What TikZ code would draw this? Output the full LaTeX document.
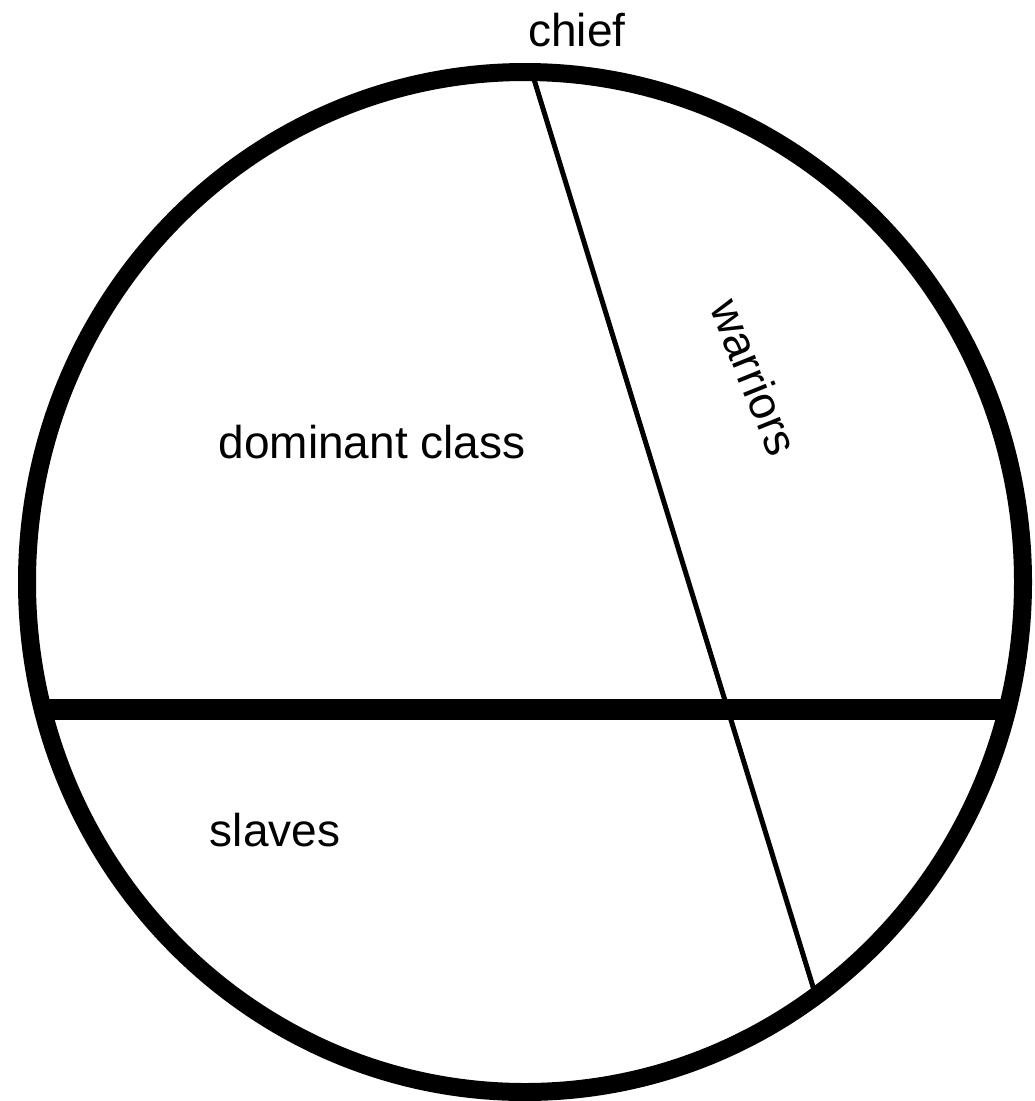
\documentclass[tikz,border=0pt]{standalone}
\usepackage{fontspec}
\setmainfont{Liberation Sans}
\begin{document}
\begin{tikzpicture}[x=1pt,y=-1pt,
  lbl/.style={font=\fontsize{46}{55}\selectfont, inner sep=0pt, anchor=center},
  rim/.style={line width=18pt},
  divider/.style={line width=21pt},
  thinline/.style={line width=5pt}]
\useasboundingbox (0,0) rectangle (1035,1101);
\coordinate (c) at (525,582);
\draw[rim] (c) ellipse [x radius=498, y radius=510];
\coordinate (hl) at (40,709);
\coordinate (hr) at (1010,709);
\draw[divider] (hl) -- (hr);
\coordinate (tt) at (533,76);
\coordinate (tb) at (814,990);
\draw[thinline] (tt) -- (tb);
\node[lbl] (chief) at (577,30) {chief};
\node[lbl] (dom) at (372,442) {dominant class};
\node[lbl] (slaves) at (275,830) {slaves};
\node[lbl, rotate=-68] (war) at (755,377) {warriors};
\end{tikzpicture}
\end{document}
